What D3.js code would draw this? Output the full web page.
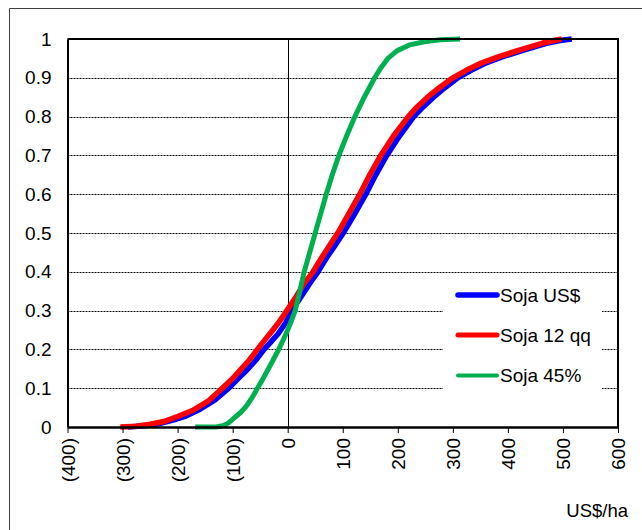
<!DOCTYPE html>
<html><head><meta charset="utf-8">
<script src="https://cdn.jsdelivr.net/npm/d3@7"></script>
<style>body{margin:0;background:#fff}svg{display:block}text{font-family:"Liberation Sans",Arial,sans-serif;fill:#000}</style>
</head><body>
<script>
const seriesNames = ["Soja US$", "Soja 12 qq", "Soja 45%"];
const seriesColors = ["#0000ff", "#ff0000", "#00b050"];
const xTicks = [-400, -300, -200, -100, 0, 100, 200, 300, 400, 500, 600];
const yTicks = [0, 0.1, 0.2, 0.3, 0.4, 0.5, 0.6, 0.7, 0.8, 0.9, 1];
const xLabel = "US$/ha";

const sojaUSD = [[-290,0],[-260,0.003],[-235,0.008],[-210,0.017],[-185,0.028],[-160,0.045],[-132,0.07],[-107,0.1],[-90,0.125],[-74,0.147],[-58,0.172],[-44,0.198],[-30,0.22],[-17,0.241],[-4,0.268],[7.6,0.3],[24,0.335],[40,0.37],[55,0.4],[70,0.435],[86,0.468],[101,0.5],[122,0.55],[142,0.6],[160,0.65],[180,0.7],[203,0.75],[229,0.8],[246,0.825],[265,0.85],[286,0.875],[309,0.9],[334,0.92],[358,0.937],[392,0.955],[430,0.972],[470,0.989],[495,0.996],[516,1.0]];
const soja12qq = [[-304,0],[-275,0.002],[-250,0.007],[-225,0.014],[-200,0.027],[-171,0.044],[-143,0.068],[-119,0.1],[-100,0.125],[-86,0.147],[-70,0.172],[-56,0.198],[-44,0.22],[-32,0.241],[-17,0.268],[-1.5,0.3],[15,0.335],[30,0.37],[46,0.4],[61,0.435],[76,0.468],[91,0.5],[111,0.55],[131,0.6],[149,0.65],[169,0.7],[192,0.75],[219,0.8],[235,0.825],[254,0.85],[276,0.875],[300,0.9],[325,0.92],[350,0.937],[385,0.955],[422,0.972],[462,0.989],[484,0.996],[498,1.0]];
const soja45 = [[-168,0],[-130,0],[-118,0.003],[-108,0.01],[-98,0.022],[-85,0.038],[-74,0.056],[-64,0.077],[-55,0.1],[-45,0.124],[-35,0.15],[-26,0.174],[-17,0.198],[-8,0.225],[0,0.25],[7,0.275],[13.6,0.3],[22,0.35],[30,0.4],[40,0.45],[50,0.5],[60,0.55],[70,0.6],[81,0.65],[93,0.7],[107,0.75],[122,0.8],[139,0.85],[158,0.9],[169,0.925],[182,0.95],[199,0.97],[222,0.985],[248,0.993],[277,0.998],[313,1.0]];
const seriesData = [sojaUSD, soja12qq, soja45];

(function () {
const W = 642, H = 530;
const svg = d3.select("body").append("svg").attr("width", W).attr("height", H);

svg.append("path").attr("d", `M9.5,${H}V8.5H${W}`).attr("fill","none").attr("stroke","#404040").attr("stroke-width",1);

const pL = 67.5, pR = 618, pT = 39, pB = 427;
const x = d3.scaleLinear().domain([-400, 600]).range([pL, pR]);
const y = d3.scaleLinear().domain([0, 1]).range([pB, pT]);

svg.append("g").selectAll("line").data(yTicks.filter(d => d > 0 && d < 1)).join("line")
  .attr("x1", pL).attr("x2", pR).attr("y1", d => Math.round(y(d)) + 0.5).attr("y2", d => Math.round(y(d)) + 0.5)
  .attr("stroke", "#000").attr("stroke-width", 1).attr("stroke-dasharray", "2,1");

svg.append("line").attr("x1", Math.round(x(0)) + 0.5).attr("x2", Math.round(x(0)) + 0.5).attr("y1", pT).attr("y2", pB)
  .attr("stroke", "#000").attr("stroke-width", 1);

const legG = svg.append("g");
legG.append("rect").attr("x", 443).attr("y", 277).attr("width", 159).attr("height", 120).attr("fill", "#fff");

const line = d3.line().x(d => x(d[0])).y(d => y(d[1]));
const widths = [5.5, 5.5, 5];
seriesData.forEach((s, i) => {
  svg.append("path").datum(s).attr("d", line).attr("fill", "none")
    .attr("stroke", seriesColors[i]).attr("stroke-width", widths[i]).attr("stroke-linejoin", "round");
});

svg.append("path").attr("d", `M${pL},${pT}H${pR}V${pB}`).attr("fill","none").attr("stroke","#000").attr("stroke-width",2);

const xAxis = d3.axisBottom(x).tickValues(xTicks).tickSize(6).tickSizeOuter(0)
  .tickFormat(d => d < 0 ? `(${Math.abs(d)})` : `${d}`);
const gx = svg.append("g").attr("transform", `translate(0,${pB})`).call(xAxis);
gx.select(".domain").attr("stroke", "#000").attr("stroke-width", 2.5);
gx.selectAll(".tick line").attr("stroke", "#000").attr("stroke-width", 1);
gx.selectAll(".tick text").attr("font-size", 19).attr("font-family", "Liberation Sans, Arial, sans-serif")
  .attr("transform", "rotate(-90)").attr("text-anchor", "end").attr("x", -11).attr("y", 0).attr("dy", "0.35em");

const yAxis = d3.axisLeft(y).tickValues(yTicks).tickSize(0).tickPadding(16).tickFormat(d => d3.format("")(d));
const gy = svg.append("g").attr("transform", `translate(${pL},0)`).call(yAxis);
gy.select(".domain").attr("stroke", "#000").attr("stroke-width", 2);
gy.selectAll(".tick text").attr("font-size", 19).attr("font-family", "Liberation Sans, Arial, sans-serif");

const legY = [295, 335, 375.5];
const legW = [5.5, 5, 4];
seriesNames.forEach((n, i) => {
  legG.append("line").attr("x1", 458).attr("x2", 497).attr("y1", legY[i]).attr("y2", legY[i])
    .attr("stroke", seriesColors[i]).attr("stroke-width", legW[i]).attr("stroke-linecap", "round");
  legG.append("text").attr("x", 500).attr("y", legY[i]).attr("dy", "0.35em").attr("font-size", 19).text(n);
});

svg.append("text").attr("x", 628).attr("y", 517).attr("text-anchor", "end").attr("font-size", 18.5).text(xLabel);
})();
</script>
</body></html>
